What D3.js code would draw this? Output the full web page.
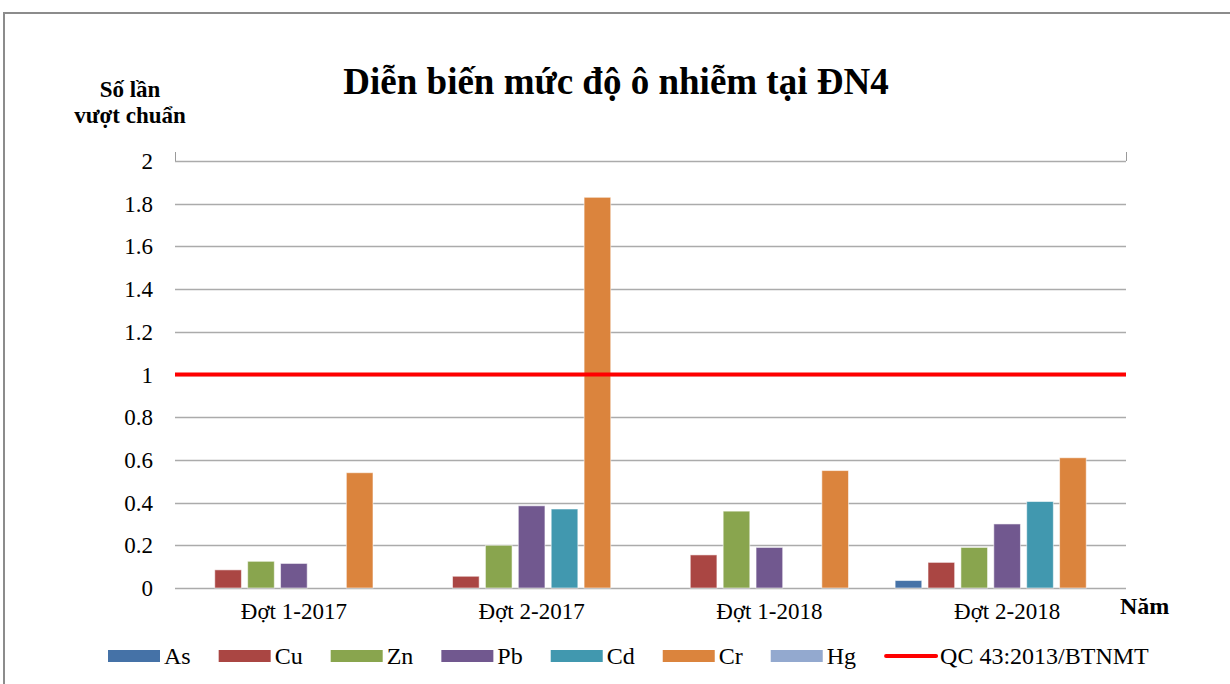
<!DOCTYPE html>
<html>
<head>
<meta charset="utf-8">
<script src="https://cdn.jsdelivr.net/npm/d3@7"></script>
<style>
	body { margin: 0; background: #fff; }
	svg text { font-family: "Liberation Serif", "Times New Roman", serif; fill: #000; }
</style>
</head>
<body>
<div id="chart"></div>
<script>
// data
var categories = ['Đợt 1-2017', 'Đợt 2-2017', 'Đợt 1-2018', 'Đợt 2-2018'];
var series_names = ['As', 'Cu', 'Zn', 'Pb', 'Cd', 'Cr', 'Hg'];
var series_colors = ['#4572a7', '#aa4643', '#89a54e', '#71588f', '#4198af', '#db843d', '#93a9cf'];
var as_values = [0, 0, 0, 0.035];
var cu_values = [0.085, 0.055, 0.155, 0.12];
var zn_values = [0.125, 0.2, 0.36, 0.19];
var pb_values = [0.115, 0.385, 0.19, 0.3];
var cd_values = [0, 0.37, 0, 0.405];
var cr_values = [0.54, 1.83, 0.55, 0.61];
var hg_values = [0, 0, 0, 0];
var y_ticks = [0, 0.2, 0.4, 0.6, 0.8, 1, 1.2, 1.4, 1.6, 1.8, 2];
var limit_value = 1;
var limit_name = 'QC 43:2013/BTNMT';

var series_values = [as_values, cu_values, zn_values, pb_values, cd_values, cr_values, hg_values];

var width = 1230,
	height = 684,
	plot_left = 175,
	plot_right = 1126,
	plot_top = 161,
	plot_bottom = 588;

var svg = d3.select('#chart')
	.append('svg')
	.attr('width', width)
	.attr('height', height);

// outer frame of the chart object
svg.append('rect')
	.attr('x', 4)
	.attr('y', 13)
	.attr('width', 1300)
	.attr('height', 800)
	.style('fill', 'none')
	.style('stroke', '#8c8c8c')
	.style('stroke-width', 2);

var y = d3.scaleLinear()
	.domain([0, 2])
	.range([plot_bottom, plot_top]);

var x0 = d3.scaleBand()
	.domain(categories)
	.range([plot_left, plot_right]);

var slot = 32;
var x1 = d3.scaleBand()
	.domain(series_names)
	.range([-slot * 3.5, slot * 3.5])
	.paddingInner(0.19);

// gridlines
svg.append('g')
	.selectAll('line')
	.data(y_ticks)
	.enter()
	.append('line')
	.attr('x1', plot_left)
	.attr('x2', plot_right)
	.attr('y1', function(d) { return Math.round(y(d)) + 0.5; })
	.attr('y2', function(d) { return Math.round(y(d)) + 0.5; })
	.style('stroke', '#ababab')
	.style('stroke-width', 1.5);

[plot_left, plot_right].forEach(function(px) {
	svg.append('line')
		.attr('x1', px + 0.5).attr('x2', px + 0.5)
		.attr('y1', plot_top - 9).attr('y2', plot_top)
		.style('stroke', '#9a9a9a')
		.style('stroke-width', 1);
});

// y tick labels
svg.append('g')
	.selectAll('text')
	.data(y_ticks)
	.enter()
	.append('text')
	.attr('x', 153)
	.attr('y', function(d) { return y(d) + 8; })
	.attr('text-anchor', 'end')
	.style('font-size', '23px')
	.text(function(d) { return d; });

var bar_groups = svg.append('g')
	.selectAll('g')
	.data(categories)
	.enter()
	.append('g')
	.attr('transform', function(d) { return 'translate(' + (x0(d) + x0.bandwidth() / 2) + ',0)'; });

bar_groups.selectAll('rect')
	.data(function(d, i) {
		return series_names.map(function(name, s) {
			return { name: name, value: series_values[s][i], color: series_colors[s] };
		}).filter(function(b) { return b.value > 0; });
	})
	.enter()
	.append('rect')
	.attr('x', function(d) { return x1(d.name); })
	.attr('y', function(d) { return y(d.value); })
	.attr('width', x1.bandwidth())
	.attr('height', function(d) { return y(0) - y(d.value); })
	.style('fill', function(d) { return d.color; })
	.style('stroke', 'rgba(255,255,255,0.55)')
	.style('stroke-width', 1);

// standard line
svg.append('line')
	.attr('x1', plot_left)
	.attr('x2', plot_right)
	.attr('y1', y(limit_value))
	.attr('y2', y(limit_value))
	.style('stroke', '#ff0000')
	.style('stroke-width', 4);

// category labels
svg.append('g')
	.selectAll('text')
	.data(categories)
	.enter()
	.append('text')
	.attr('x', function(d) { return x0(d) + x0.bandwidth() / 2; })
	.attr('y', 619)
	.attr('text-anchor', 'middle')
	.style('font-size', '23px')
	.text(function(d) { return d; });

// titles
svg.append('text')
	.attr('x', 616)
	.attr('y', 94)
	.attr('text-anchor', 'middle')
	.style('font-size', '37px')
	.style('font-weight', 'bold')
	.text('Diễn biến mức độ ô nhiễm tại ĐN4');

svg.append('text')
	.attr('x', 130)
	.attr('y', 97)
	.attr('text-anchor', 'middle')
	.style('font-size', '23px')
	.style('font-weight', 'bold')
	.text('Số lần');

svg.append('text')
	.attr('x', 130)
	.attr('y', 123)
	.attr('text-anchor', 'middle')
	.style('font-size', '23px')
	.style('font-weight', 'bold')
	.text('vượt chuẩn');

svg.append('text')
	.attr('x', 1120)
	.attr('y', 614)
	.style('font-size', '24px')
	.style('font-weight', 'bold')
	.text('Năm');

// legend
var legend_items = series_names.map(function(name, s) {
	return { name: name, color: series_colors[s], line: false };
});
legend_items.push({ name: limit_name, color: '#ff0000', line: true });

var legend = svg.append('g');
var lx = 108;
legend_items.forEach(function(item) {
	if (item.line) {
		legend.append('line')
			.attr('x1', lx + 2).attr('x2', lx + 52)
			.attr('y1', 656).attr('y2', 656)
			.style('stroke', item.color)
			.style('stroke-width', 4)
			.style('stroke-linecap', 'round');
	} else {
		legend.append('rect')
			.attr('x', lx).attr('y', 650)
			.attr('width', 52).attr('height', 12)
			.style('fill', item.color);
	}
	var t = legend.append('text')
		.attr('x', lx + 56)
		.attr('y', 664)
		.style('font-size', '24px')
		.text(item.name);
	lx = lx + 56 + t.node().getComputedTextLength() + 28;
});
</script>
</body>
</html>
